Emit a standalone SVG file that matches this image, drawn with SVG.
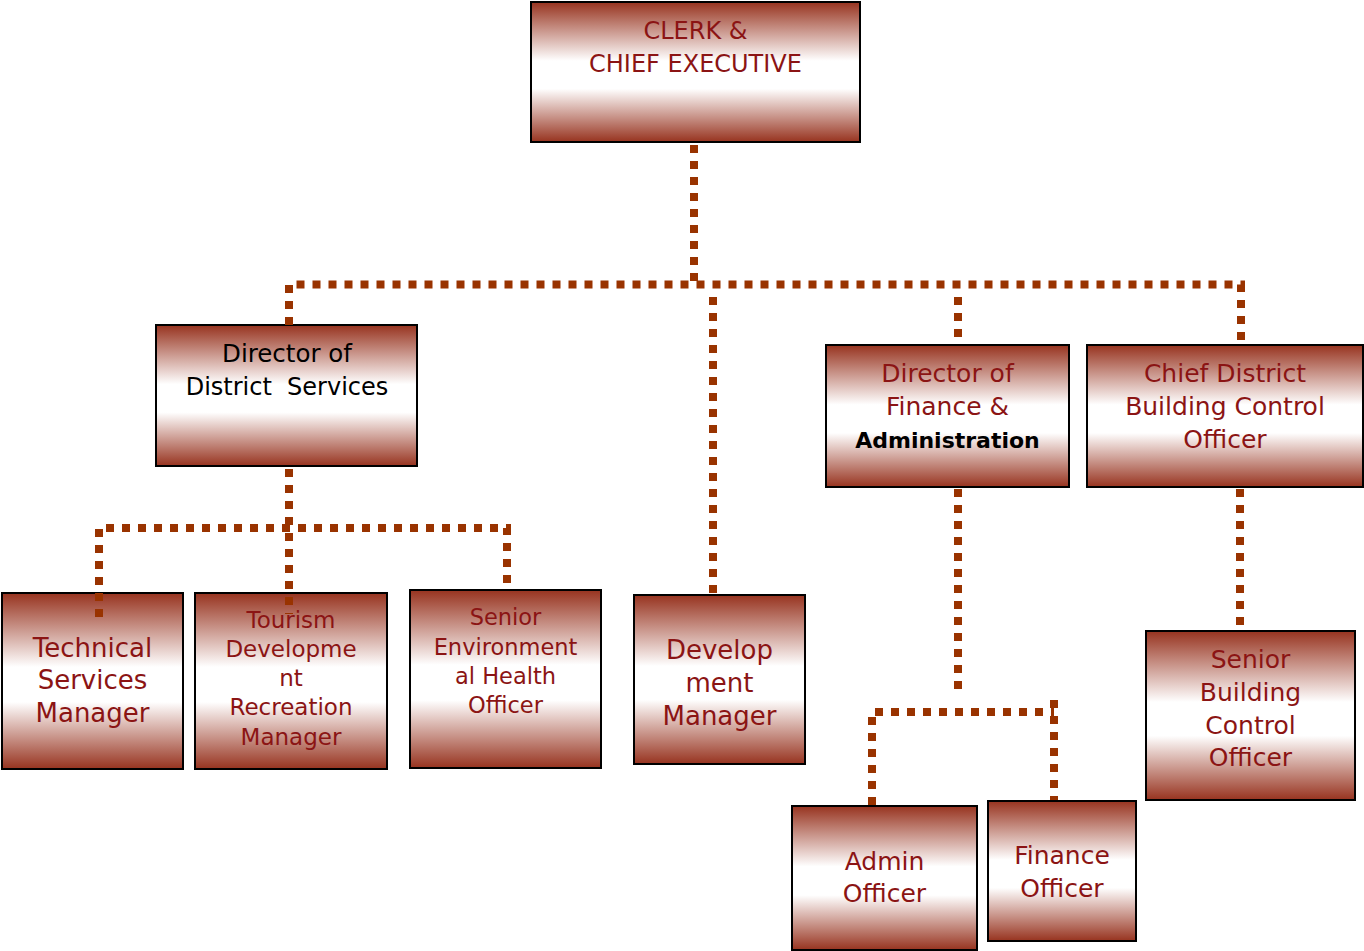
<svg xmlns="http://www.w3.org/2000/svg" width="1364" height="951" viewBox="0 0 1364 951">
<defs>
<linearGradient id="g" x1="0" y1="0" x2="0" y2="1">
<stop offset="0" stop-color="#97331f"/>
<stop offset="0.42" stop-color="#ffffff"/>
<stop offset="0.62" stop-color="#ffffff"/>
<stop offset="1" stop-color="#97331f"/>
</linearGradient>
</defs>
<style>
.box{fill:url(#g);stroke:#000;stroke-width:2}
text{font-family:"DejaVu Sans","Liberation Sans",sans-serif;text-anchor:middle;fill:#8b1414;white-space:pre}
.k{fill:#000}
.b{font-weight:bold;fill:#000}
.c{fill:none;stroke:#993300;stroke-width:8;stroke-dasharray:8 8}
</style>
<rect width="1364" height="951" fill="#fff"/>
<g id="clerk"><rect class="box" x="531" y="2" width="329" height="140"/>
<text x="695.5" y="38.5" font-size="24">CLERK &amp;</text>
<text x="695.5" y="72" font-size="24">CHIEF EXECUTIVE</text></g>
<g id="dir-district"><rect class="box" x="156" y="325" width="261" height="141"/>
<text class="k" x="287" y="361.5" font-size="24.5">Director of</text>
<text class="k" x="287" y="395" font-size="24">District  Services</text></g>
<g id="dir-finance"><rect class="box" x="826" y="345" width="243" height="142"/>
<text x="947.5" y="382" font-size="25">Director of</text>
<text x="947.5" y="415" font-size="25">Finance &amp;</text>
<text class="b" x="947.5" y="447.5" font-size="22">Administration</text></g>
<g id="chief-building"><rect class="box" x="1087" y="345" width="276" height="142"/>
<text x="1225" y="382" font-size="25">Chief District</text>
<text x="1225" y="415" font-size="25">Building Control</text>
<text x="1225" y="448" font-size="25">Officer</text></g>
<g id="technical"><rect class="box" x="2" y="593" width="181" height="176"/>
<text x="92.5" y="656.5" font-size="26">Technical</text>
<text x="92.5" y="689" font-size="26">Services</text>
<text x="92.5" y="721.5" font-size="26">Manager</text></g>
<g id="tourism"><rect class="box" x="195" y="593" width="192" height="176"/>
<text x="291" y="628" font-size="23">Tourism</text>
<text x="291" y="657" font-size="23">Developme</text>
<text x="291" y="686" font-size="23">nt</text>
<text x="291" y="715" font-size="23">Recreation</text>
<text x="291" y="745" font-size="23">Manager</text></g>
<g id="senior-env"><rect class="box" x="410" y="590" width="191" height="178"/>
<text x="505.5" y="625" font-size="22.5">Senior</text>
<text x="505.5" y="655" font-size="22.5">Environment</text>
<text x="505.5" y="684" font-size="22.5">al Health</text>
<text x="505.5" y="713" font-size="22.5">Officer</text></g>
<g id="development"><rect class="box" x="634" y="595" width="171" height="169"/>
<text x="719.5" y="659" font-size="26">Develop</text>
<text x="719.5" y="692" font-size="26">ment</text>
<text x="719.5" y="724.5" font-size="26">Manager</text></g>
<g id="admin"><rect class="box" x="792" y="806" width="185" height="144"/>
<text x="884.5" y="870" font-size="25">Admin</text>
<text x="884.5" y="902" font-size="25">Officer</text></g>
<g id="finance-officer"><rect class="box" x="988" y="801" width="148" height="140"/>
<text x="1062" y="864" font-size="25">Finance</text>
<text x="1062" y="897" font-size="25">Officer</text></g>
<g id="senior-building"><rect class="box" x="1146" y="631" width="209" height="169"/>
<text x="1250.5" y="668" font-size="25">Senior</text>
<text x="1250.5" y="701" font-size="25">Building</text>
<text x="1250.5" y="733.5" font-size="25">Control</text>
<text x="1250.5" y="766" font-size="25">Officer</text></g>
<g id="connectors">
<path class="c" d="M694 145 V284.5"/>
<path class="c" d="M289 325 V284.5 H1241 V345"/>
<path class="c" d="M713 297 V593"/>
<path class="c" d="M958 297 V340"/>
<path class="c" d="M289 469 V614"/>
<path class="c" d="M99 617 V528 H507 V587"/>
<path class="c" d="M958 489 V690"/>
<path class="c" d="M872 805 V712 H1054"/>
<path class="c" d="M1054 700 V800"/>
<path class="c" d="M1240 489 V630"/>
</g>
</svg>
